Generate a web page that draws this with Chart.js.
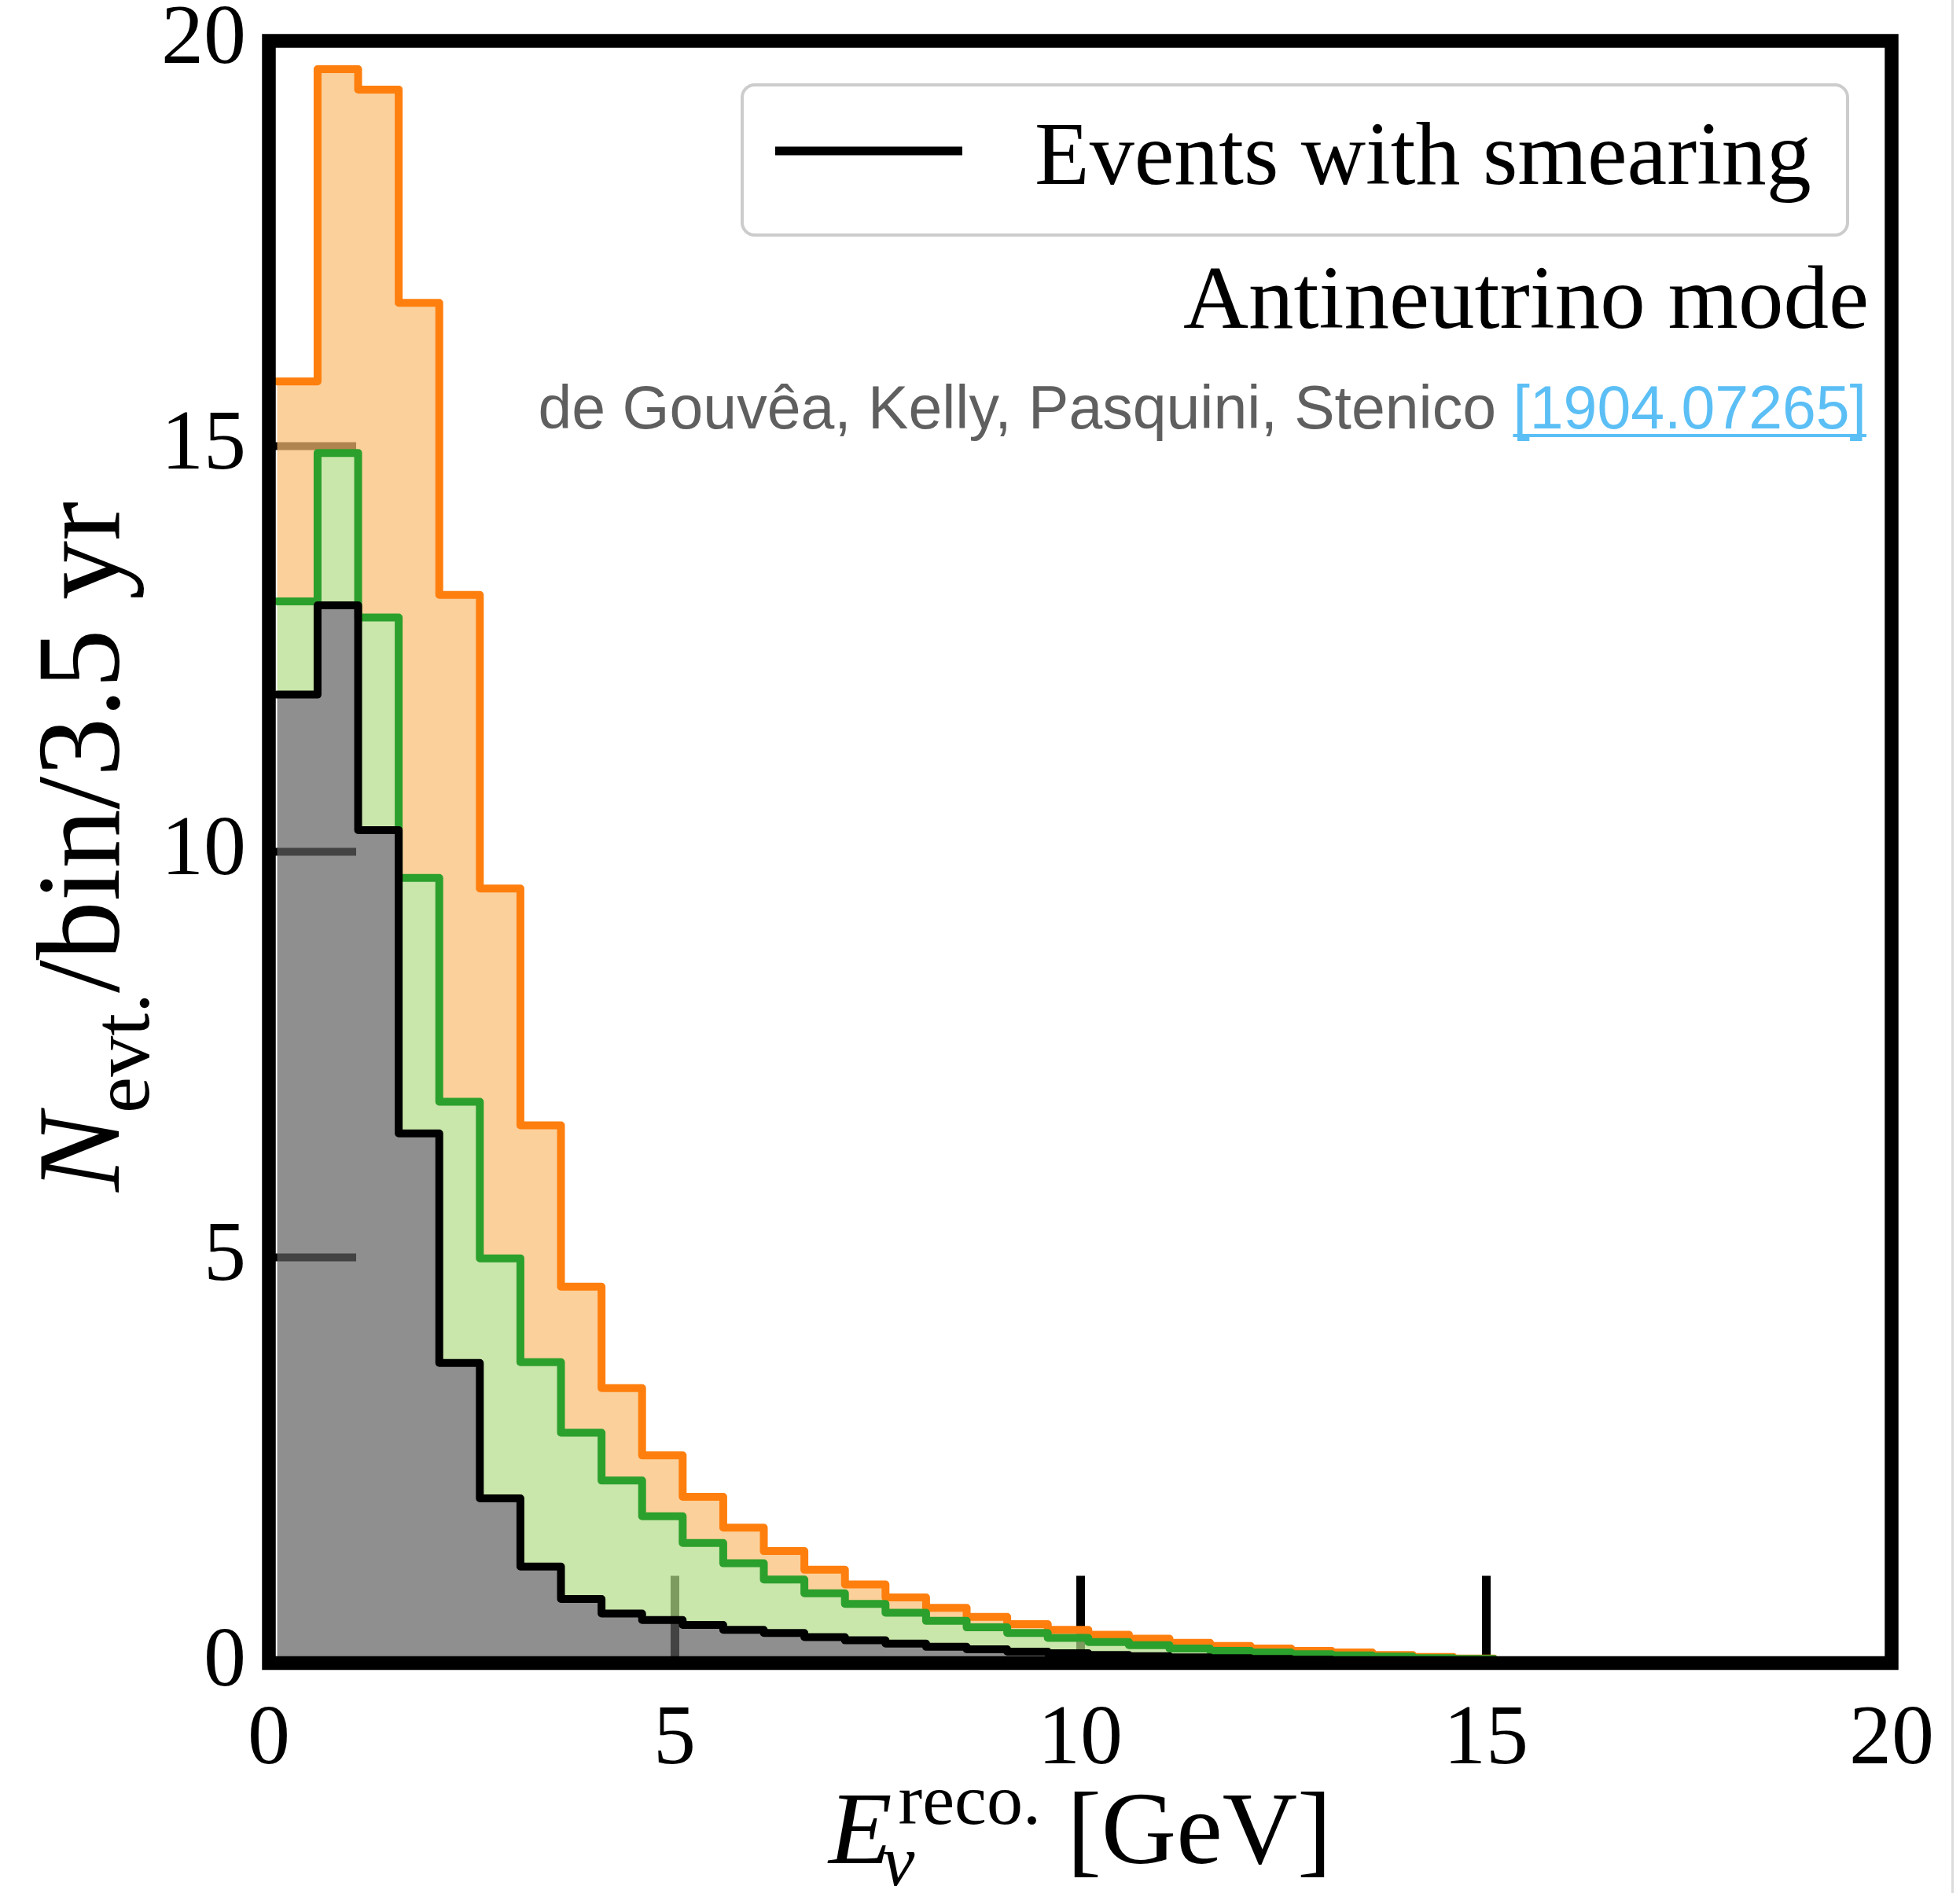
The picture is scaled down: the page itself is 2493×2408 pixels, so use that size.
<!DOCTYPE html>
<html>
<head>
<meta charset="utf-8">
<title>Antineutrino mode</title>
<script src="https://cdn.jsdelivr.net/npm/chart.js@4.4.0/dist/chart.umd.min.js"></script>
<style>
  body { margin: 0; background: #fff; }
  #wrap { position: relative; width: 2493px; height: 2408px; }
</style>
</head>
<body>
<div id="wrap"><canvas id="chart"></canvas></div>
<script>
// bin edges in GeV (0.5 GeV bins)
const binEdges = [0.1, 0.6, 1.1, 1.6, 2.1, 2.6, 3.1, 3.6, 4.1, 4.6, 5.1, 5.6, 6.1, 6.6, 7.1, 7.6,
  8.1, 8.6, 9.1, 9.6, 10.1, 10.6, 11.1, 11.6, 12.1, 12.6, 13.1, 13.6, 14.1, 14.6, 15.1];

const orangeEvents = [15.8, 19.65, 19.4, 16.77, 13.17, 9.55, 6.63, 4.64, 3.39, 2.56, 2.05, 1.67, 1.38, 1.15, 0.97,
  0.81, 0.68, 0.57, 0.48, 0.41, 0.35, 0.30, 0.25, 0.21, 0.18, 0.15, 0.13, 0.10, 0.075, 0.055];
const greenEvents = [13.09, 14.92, 12.89, 9.68, 6.92, 4.99, 3.71, 2.84, 2.25, 1.81, 1.48, 1.23, 1.03, 0.86, 0.73,
  0.62, 0.52, 0.44, 0.37, 0.31, 0.26, 0.22, 0.18, 0.15, 0.13, 0.11, 0.095, 0.08, 0.06, 0.05];
const smearedEvents = [11.94, 13.04, 10.27, 6.53, 3.70, 2.03, 1.19, 0.79, 0.61, 0.53, 0.47, 0.41, 0.37, 0.32, 0.28,
  0.24, 0.20, 0.17, 0.14, 0.12, 0.10, 0.085, 0.07, 0.06, 0.05, 0.04, 0.035, 0.03, 0.025, 0.02];

const xTicks = [0, 5, 10, 15, 20];
const yTicks = [0, 5, 10, 15, 20];

const SERIF = '"Liberation Serif", "DejaVu Serif", serif';
const SANS = '"Liberation Sans", Arial, sans-serif';

// step histogram: value of bin i is held from edge i to edge i+1
function stepPoints(values) {
  const pts = values.map((v, i) => ({ x: binEdges[i], y: v }));
  pts.push({ x: binEdges[values.length], y: 0 });
  return pts;
}

function histDataset(values, line, fillColor, fill) {
  return {
    data: stepPoints(values),
    stepped: 'before',
    borderColor: line,
    backgroundColor: fillColor,
    borderWidth: 10,
    borderJoinStyle: 'round',
    borderCapStyle: 'round',
    pointRadius: 0,
    fill,
  };
}

function fixedSize(prop, size) {
  return scale => {
    scale[prop] = size;
    scale.paddingTop = scale.paddingBottom = scale.paddingLeft = scale.paddingRight = 0;
  };
}

const overlay = {
  id: 'overlay',
  afterDraw(chart) {
    const { ctx, chartArea: a } = chart;
    ctx.save();

    // frame
    ctx.strokeStyle = '#000';
    ctx.lineWidth = 17.5;
    ctx.strokeRect(a.left, a.top, a.right - a.left, a.bottom - a.top);

    // thin page edge on the far right
    ctx.fillStyle = '#dcdcdc';
    ctx.fillRect(2482, 0, 3, 2408);

    // legend
    ctx.beginPath();
    ctx.roundRect(944, 108, 1406, 191, 16);
    ctx.fillStyle = 'rgba(255,255,255,0.9)';
    ctx.fill();
    ctx.strokeStyle = '#cccccc';
    ctx.lineWidth = 4;
    ctx.stroke();
    ctx.beginPath();
    ctx.moveTo(986, 192);
    ctx.lineTo(1224, 192);
    ctx.strokeStyle = '#000';
    ctx.lineWidth = 11;
    ctx.stroke();
    ctx.fillStyle = '#000';
    ctx.textBaseline = 'alphabetic';
    ctx.textAlign = 'left';
    ctx.font = `114px ${SERIF}`;
    ctx.fillText('Events with smearing', 1316, 234);

    // mode label
    ctx.textAlign = 'right';
    ctx.font = `115px ${SERIF}`;
    ctx.fillText('Antineutrino mode', 2377, 417);

    // credit + link
    ctx.font = `77px ${SANS}`;
    ctx.fillStyle = '#5bbff5';
    ctx.fillText('[1904.07265]', 2374, 545);
    const wLink = ctx.measureText('[1904.07265]').width;
    ctx.fillRect(2374 - wLink, 552, wLink, 4);
    ctx.fillStyle = '#5f5f5f';
    ctx.fillText('de Gouvêa, Kelly, Pasquini, Stenico ', 2374 - wLink, 545);

    // x axis title: E_nu^reco. [GeV]
    ctx.fillStyle = '#000';
    ctx.textAlign = 'left';
    let big = 132, small = 92;
    ctx.font = `italic ${big}px ${SERIF}`;
    const wE = ctx.measureText('E').width;
    ctx.font = `${small}px ${SERIF}`;
    const wSup = ctx.measureText('reco.').width;
    ctx.font = `${big}px ${SERIF}`;
    const wRest = ctx.measureText(' [GeV]').width;
    const total = wE + 8 + wSup + wRest;
    const x0 = (a.left + a.right) / 2 - total / 2;
    const base = 2370;
    ctx.font = `italic ${big}px ${SERIF}`;
    ctx.fillText('E', x0, base);
    ctx.font = `italic ${small}px ${SERIF}`;
    ctx.fillText('ν', x0 + wE - 12, base + 28);
    ctx.font = `${small}px ${SERIF}`;
    ctx.fillText('reco.', x0 + wE + 8, base - 50);
    ctx.font = `${big}px ${SERIF}`;
    ctx.fillText(' [GeV]', x0 + wE + 8 + wSup, base);

    // y axis title: N_evt./bin/3.5 yr (rotated)
    big = 150;
    small = 104;
    ctx.translate(151, 1077);
    ctx.rotate(-Math.PI / 2);
    ctx.font = `italic ${big}px ${SERIF}`;
    const wN = ctx.measureText('N').width;
    ctx.font = `${small}px ${SERIF}`;
    const wSub = ctx.measureText('evt.').width;
    ctx.font = `${big}px ${SERIF}`;
    const wTail = ctx.measureText('/bin/3.5 yr').width;
    let p = -(wN + wSub + wTail) / 2;
    ctx.font = `italic ${big}px ${SERIF}`;
    ctx.fillText('N', p, 0);
    p += wN;
    ctx.font = `${small}px ${SERIF}`;
    ctx.fillText('evt.', p, 38);
    p += wSub;
    ctx.font = `${big}px ${SERIF}`;
    ctx.fillText('/bin/3.5 yr', p, 0);

    ctx.restore();
  },
};

Chart.defaults.font.family = SERIF;
Chart.defaults.color = '#000';

new Chart(document.getElementById('chart'), {
  type: 'line',
  data: {
    datasets: [
      histDataset(smearedEvents, '#000000', 'rgba(96,96,96,0.7)', 'origin'),
      histDataset(greenEvents, '#2ca02c', 'rgba(178,219,135,0.7)', '-1'),
      histDataset(orangeEvents, '#ff7f0e', 'rgba(249,188,113,0.7)', '-1'),
    ],
  },
  options: {
    responsive: true,
    maintainAspectRatio: false,
    animation: false,
    events: [],
    layout: { padding: { left: 0, top: 52, right: 87, bottom: 0 } },
    plugins: { legend: { display: false }, tooltip: { enabled: false } },
    scales: {
      x: {
        type: 'linear',
        min: 0,
        max: 20,
        afterBuildTicks: scale => { scale.ticks = xTicks.map(value => ({ value })); },
        ticks: { font: { size: 108, lineHeight: 1.2 }, padding: 145, maxRotation: 0 },
        grid: { drawOnChartArea: false, tickLength: -111, tickWidth: 11, tickColor: '#000' },
        border: { display: false },
        afterFit: fixedSize('height', 292.5),
      },
      y: {
        min: 0,
        max: 20,
        afterBuildTicks: scale => { scale.ticks = yTicks.map(value => ({ value })); },
        ticks: { font: { size: 108, lineHeight: 1.2 }, padding: 140 },
        grid: { drawOnChartArea: false, tickLength: -111, tickWidth: 10, tickColor: '#000' },
        border: { display: false },
        afterFit: fixedSize('width', 342),
      },
    },
  },
  plugins: [overlay],
});
</script>
</body>
</html>
